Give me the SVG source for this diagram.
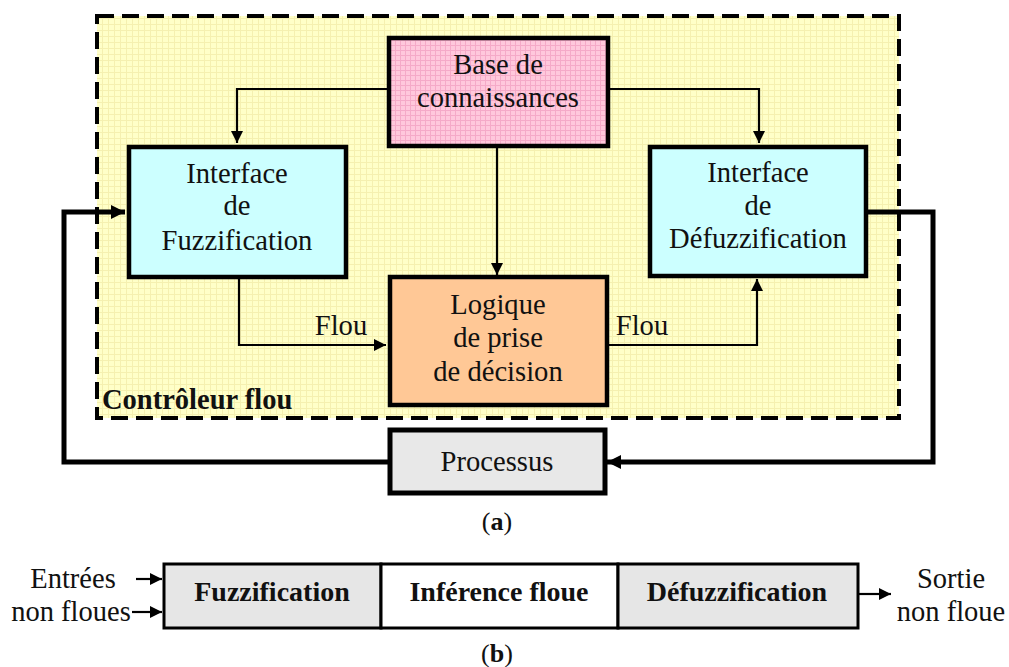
<svg xmlns="http://www.w3.org/2000/svg" width="1009" height="667" viewBox="0 0 1009 667">
<style>
text{font-family:'Liberation Serif','Times New Roman',serif;fill:#111;text-anchor:middle}
.t{font-size:28.6px}
.b{font-weight:bold}
.box{stroke:#000;stroke-width:4.5}
.thin{fill:none;stroke:#000;stroke-width:2.2}
.thick{fill:none;stroke:#000;stroke-width:5}
</style>
<defs>
<pattern id="gy" width="6" height="6" patternUnits="userSpaceOnUse">
<rect width="6" height="6" fill="#ffffc8"/>
<path d="M0 0.5H6M0.5 0V6" stroke="#f5f0b0" stroke-width="1"/>
</pattern>
<pattern id="gp" width="5" height="5" patternUnits="userSpaceOnUse">
<rect width="5" height="5" fill="#ffc8dc"/>
<path d="M0 0.5H5M0.5 0V5" stroke="#f5aac8" stroke-width="1"/>
</pattern>
<marker id="ah" viewBox="0 0 12 12" refX="12" refY="6" markerWidth="12" markerHeight="12" markerUnits="userSpaceOnUse" orient="auto">
<path d="M0 0L12 6L0 12z" fill="#000"/>
</marker>
<marker id="ahb" viewBox="0 0 14 14" refX="14" refY="7" markerWidth="14" markerHeight="14" markerUnits="userSpaceOnUse" orient="auto">
<path d="M0 0L14 7L0 14z" fill="#000"/>
</marker>
</defs>
<rect width="1009" height="667" fill="#fff"/>
<g id="controleur">
<rect x="97" y="16" width="802" height="402" fill="url(#gy)" stroke="#000" stroke-width="4" stroke-dasharray="17 8"/>
<text class="b" x="102" y="409" style="font-size:28.5px;text-anchor:start">Contrôleur flou</text>
</g>
<g id="connectors">
<path class="thin" d="M388 89H237V143" marker-end="url(#ah)"/>
<path class="thin" d="M608 89H759V143" marker-end="url(#ah)"/>
<path class="thin" d="M497 147V275" marker-end="url(#ah)"/>
<path class="thin" d="M239 278V345H386" marker-end="url(#ah)"/>
<path class="thin" d="M609 345H757V279" marker-end="url(#ah)"/>
<path class="thick" d="M388 462H64V212H125" marker-end="url(#ahb)"/>
<path class="thick" d="M867 212H933V462H607" marker-end="url(#ahb)"/>
<text class="t" x="341" y="335">Flou</text>
<text class="t" x="642" y="335">Flou</text>
</g>
<g id="base">
<rect class="box" x="389" y="38" width="219" height="108" fill="url(#gp)"/>
<text class="t" x="498" y="74">Base de</text>
<text class="t" x="498" y="107">connaissances</text>
</g>
<g id="fuzz">
<rect class="box" x="129" y="147" width="217" height="130" fill="#ccffff"/>
<text class="t" x="237" y="183">Interface</text>
<text class="t" x="237" y="215">de</text>
<text class="t" x="237" y="250">Fuzzification</text>
</g>
<g id="defuzz">
<rect class="box" x="650" y="147" width="216" height="129" fill="#ccffff"/>
<text class="t" x="758" y="182">Interface</text>
<text class="t" x="758" y="215">de</text>
<text class="t" x="758" y="248">Défuzzification</text>
</g>
<g id="logique">
<rect class="box" x="390" y="277" width="217" height="128" fill="#ffc896"/>
<text class="t" x="498" y="314">Logique</text>
<text class="t" x="498" y="347">de prise</text>
<text class="t" x="498" y="381">de décision</text>
</g>
<g id="processus">
<rect x="390" y="430" width="215" height="63" fill="#e8e8e8" stroke="#000" stroke-width="5"/>
<text class="t" x="497" y="471">Processus</text>
</g>
<text x="497" y="530" style="font-size:26px">(<tspan font-weight="bold">a</tspan>)</text>
<g id="chaine">
<rect x="164" y="564" width="217" height="64" fill="#e6e6e6" stroke="#000" stroke-width="3"/>
<rect x="381" y="564" width="237" height="64" fill="#fff" stroke="#000" stroke-width="3"/>
<rect x="618" y="564" width="240" height="64" fill="#e6e6e6" stroke="#000" stroke-width="3"/>
<text class="b" x="272" y="601" style="font-size:28px">Fuzzification</text>
<text class="b" x="499" y="601" style="font-size:28px">Inférence floue</text>
<text class="b" x="737" y="601" style="font-size:28px">Défuzzification</text>
</g>
<g id="io">
<path class="thin" d="M136 579H162" marker-end="url(#ah)"/>
<path class="thin" d="M132 612H162" marker-end="url(#ah)"/>
<path class="thin" d="M859 594H891" marker-end="url(#ah)"/>
<text x="73" y="588" style="font-size:28.5px">Entrées</text>
<text x="71" y="621" style="font-size:28.5px">non floues</text>
<text x="951" y="588" style="font-size:28.5px">Sortie</text>
<text x="951" y="621" style="font-size:28.5px">non floue</text>
</g>
<text x="497" y="662" style="font-size:26px">(<tspan font-weight="bold">b</tspan>)</text>
</svg>
